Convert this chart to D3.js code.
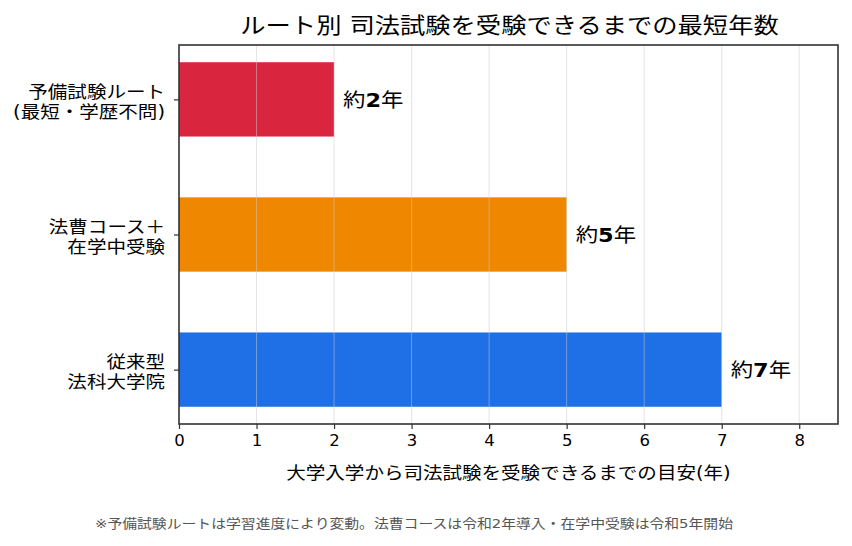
<!DOCTYPE html>
<html><head><meta charset="utf-8">
<script src="https://cdn.jsdelivr.net/npm/d3@7"></script>
<style>
body{margin:0;background:#fff;}
text{font-family:"DejaVu Sans","Noto Sans CJK JP",sans-serif;}
</style></head>
<body><svg id="c" width="852" height="546"></svg>
<script>
const categories = [["予備試験ルート","(最短・学歴不問)"],["法曹コース＋","在学中受験"],["従来型","法科大学院"]];
const values = [2,5,7];
const valueLabels = ["2","5","7"];
const colors = ["#DA253E","#EF8800","#1F6FE6"];
const xTicks = [0,1,2,3,4,5,6,7,8];
const title = "ルート別 司法試験を受験できるまでの最短年数";
const xLabel = "大学入学から司法試験を受験できるまでの目安(年)";
const footnote = "※予備試験ルートは学習進度により変動。法曹コースは令和2年導入・在学中受験は令和5年開始";

const svg = d3.select("#c");
const L=179,R=838,T=45,B=424;
const x = d3.scaleLinear().domain([0,8.5]).range([L,R]);
const y = d3.scaleLinear().domain([-0.4025,2.4025]).range([T,B]);
const h = 0.55;
const font = '"DejaVu Sans","Noto Sans CJK JP",sans-serif';
const SX = 1.15;

function stext(px,py,anchor,size){
  return svg.append("g").attr("transform",`translate(${px},${py}) scale(${SX},1)`)
    .append("text").attr("x",0).attr("y",0).attr("text-anchor",anchor)
    .attr("font-size",size).attr("fill","#000");
}

stext((L+R)/2+1,33,"middle",22).text(title);

// bars
svg.selectAll("rect.bar").data(values).enter().append("rect")
  .attr("x",x(0)).attr("y",(d,i)=>y(i-h/2)).attr("width",d=>x(d)-x(0))
  .attr("height",(d,i)=>y(i+h/2)-y(i-h/2)).attr("fill",(d,i)=>colors[i]);

// grid over bars
svg.selectAll("line.grid").data(xTicks.filter(t=>t>0)).enter().append("line")
  .attr("x1",d=>x(d)).attr("x2",d=>x(d)).attr("y1",T).attr("y2",B)
  .attr("stroke","#cccccc").attr("stroke-opacity",0.5).attr("stroke-width",1);

// value labels
values.forEach((v,i)=>{
  const t = stext(x(v)+9,y(i),"start",19.5).attr("dominant-baseline","central");
  t.append("tspan").text("約");
  t.append("tspan").attr("font-weight","bold").text(valueLabels[i]);
  t.append("tspan").text("年");
});

// frame
svg.append("rect").attr("x",L).attr("y",T).attr("width",R-L).attr("height",B-T)
  .attr("fill","none").attr("stroke","#333").attr("stroke-width",1.6);

// x axis
const xa = svg.append("g").attr("transform",`translate(0,${B})`)
  .call(d3.axisBottom(x).tickValues(xTicks).tickSize(5).tickPadding(5).tickFormat(d3.format("d")));
xa.select(".domain").remove();
xa.selectAll("line").attr("stroke","#333").attr("stroke-width",1.2);
xa.selectAll("text").attr("font-size",16.5).attr("fill","#000").attr("font-family",font);

// y axis
const ya = svg.append("g").attr("transform",`translate(${L},0)`)
  .call(d3.axisLeft(y).tickValues([0,1,2]).tickSize(5).tickFormat(""));
ya.select(".domain").remove();
ya.selectAll("line").attr("stroke","#333").attr("stroke-width",1.2);
categories.forEach((lines,i)=>{
  const t = stext(L-14,y(i),"end",17);
  lines.forEach((ln,j)=>{
    t.append("tspan").attr("x",0).attr("dy", j===0 ? "-0.1em" : "1.18em").text(ln);
  });
});

stext((L+R)/2,479,"middle",17).text(xLabel);

stext(414,528,"middle",12.9).attr("fill","#555").text(footnote);
</script></body></html>
